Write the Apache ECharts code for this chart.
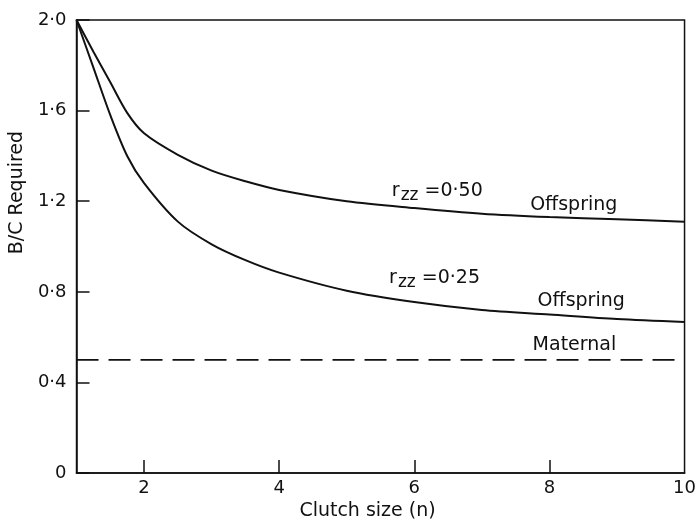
<!DOCTYPE html>
<html>
<head>
<meta charset="utf-8">
<script src="https://cdn.jsdelivr.net/npm/echarts@6/dist/echarts.min.js"></script>
<style>
  html, body { margin: 0; padding: 0; background: #fff; }
  #chart { width: 699px; height: 526px; }
</style>
</head>
<body>
<div id="chart"></div>
<script>
// Clutch size n and the benefit/cost ratio required for each curve
const clutchSize = [1, 1.25, 1.5, 1.75, 2, 2.5, 3, 3.5, 4, 5, 6, 7, 8, 9, 10];
const offspringHalf = [2.0, 1.86, 1.725, 1.59, 1.50, 1.405, 1.335, 1.288, 1.25, 1.20, 1.17, 1.145, 1.13, 1.12, 1.11];
const offspringQuarter = [2.0, 1.79, 1.58, 1.40, 1.28, 1.11, 1.01, 0.94, 0.885, 0.805, 0.755, 0.72, 0.70, 0.68, 0.667];
const maternalX = [1, 10];
const maternalY = [0.5, 0.5];

const xTickValues = [2, 4, 6, 8];
const xLabelValues = [2, 4, 6, 8, 10];
const yTickValues = [0, 0.4, 0.8, 1.2, 1.6, 2.0];

// Curve annotations, placed in data coordinates
const notes = [
  { name: 'rHalf', x: 6.34, y: 1.245, text: '{r|r}{sub|zz}{t| =0·50}' },
  { name: 'offHalf', x: 8.36, y: 1.185, text: '{t|Offspring}' },
  { name: 'rQuarter', x: 6.30, y: 0.862, text: '{r|r}{sub|zz}{t| =0·25}' },
  { name: 'offQuarter', x: 8.47, y: 0.76, text: '{t|Offspring}' },
  { name: 'maternal', x: 8.37, y: 0.563, text: '{t|Maternal}' }
];

const ink = '#111';
const font = 'DejaVu Sans';

const pair = (xs, ys) => xs.map((x, i) => [x, ys[i]]);
const fmt = v => (v === 0 ? '0' : v.toFixed(1).replace('.', '·'));

const chart = echarts.init(document.getElementById('chart'), null, { renderer: 'canvas' });

const curveStyle = { color: ink, width: 2 };

chart.setOption({
  animation: false,
  backgroundColor: '#fff',
  grid: {
    left: 73, right: 6, top: 20, bottom: 44,
    show: true, borderColor: ink, borderWidth: 1.5, backgroundColor: 'transparent'
  },
  xAxis: {
    type: 'value', min: 1, max: 10,
    name: 'Clutch size (n)', nameLocation: 'middle', nameGap: 24,
    nameTextStyle: { fontFamily: font, fontSize: 19, color: ink, padding: [0, 26, 0, 0] },
    axisLine: { show: true, lineStyle: { color: ink, width: 1.5 } },
    axisTick: { show: true, inside: true, length: 13, customValues: xTickValues, lineStyle: { color: ink, width: 1.5 } },
    axisLabel: { customValues: xLabelValues, margin: 6, fontFamily: font, fontSize: 18, color: ink, showMinLabel: true, showMaxLabel: true },
    splitLine: { show: false }
  },
  yAxis: {
    type: 'value', min: 0, max: 2,
    name: 'B/C Required', nameLocation: 'middle', nameGap: 44, nameRotate: 90,
    nameTextStyle: { fontFamily: font, fontSize: 19, color: ink, padding: [0, 0, 0, 108] },
    axisLine: { show: true, lineStyle: { color: ink, width: 1.5 } },
    axisTick: { show: true, inside: true, length: 13, customValues: yTickValues, lineStyle: { color: ink, width: 1.5 } },
    axisLabel: { customValues: yTickValues, formatter: fmt, margin: 10, fontFamily: font, fontSize: 18, color: ink },
    splitLine: { show: false }
  },
  series: [
    {
      type: 'line', data: pair(clutchSize, offspringHalf), smooth: 0.3,
      showSymbol: false, lineStyle: curveStyle
    },
    {
      type: 'line', data: pair(clutchSize, offspringQuarter), smooth: 0.3,
      showSymbol: false, lineStyle: curveStyle
    },
    {
      type: 'line', data: pair(maternalX, maternalY), showSymbol: false,
      lineStyle: { color: ink, width: 1.6, type: [22, 10] }
    },
    {
      type: 'scatter', symbolSize: 0, itemStyle: { color: ink, opacity: 1 },
      data: notes.map(n => ({ name: n.name, value: [n.x, n.y], label: { formatter: n.text } })),
      label: {
        show: true, position: [0, 0], align: 'center', verticalAlign: 'middle',
        color: ink, opacity: 1, textBorderWidth: 0,
        rich: {
          t: { fontFamily: font, fontSize: 19, color: ink, lineHeight: 22 },
          r: { fontFamily: font, fontSize: 19, color: ink, lineHeight: 22 },
          sub: { fontFamily: font, fontSize: 17, color: ink, lineHeight: 22, padding: [10, 0, 0, 1] }
        }
      },
      silent: true
    }
  ]
});
</script>
</body>
</html>
